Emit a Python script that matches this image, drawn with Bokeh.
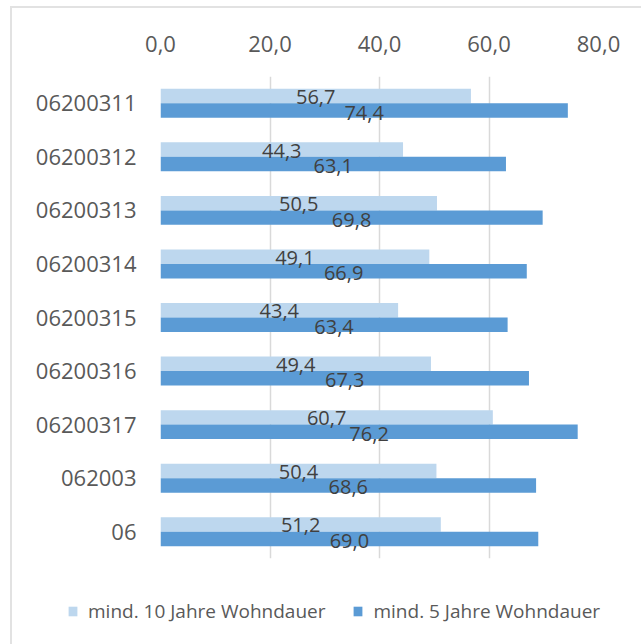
from bokeh.plotting import figure
from bokeh.layouts import column
from bokeh.models import (ColumnDataSource, FactorRange, Range1d, FixedTicker,
                          CustomJSTickFormatter, Legend, LegendItem, LinearAxis)
from bokeh.transform import dodge
from bokeh.core.properties import value
from bokeh.embed import file_html
from bokeh.resources import INLINE

categories = ["06200311", "06200312", "06200313", "06200314", "06200315",
              "06200316", "06200317", "062003", "06"]
series_names = ["mind. 10 Jahre Wohndauer", "mind. 5 Jahre Wohndauer"]
ten_years = [56.7, 44.3, 50.5, 49.1, 43.4, 49.4, 60.7, 50.4, 51.2]
five_years = [74.4, 63.1, 69.8, 66.9, 63.4, 67.3, 76.2, 68.6, 69.0]
x_ticks = [0, 20, 40, 60, 80]

LIGHT = "#bdd7ee"
DARK = "#5b9bd5"
FONT = "Open Sans"

def fmt(v):
    return f"{v:.1f}".replace(".", ",")

src = ColumnDataSource(dict(
    cat=categories,
    ten=ten_years,
    five=five_years,
    ten_mid=[v / 2 for v in ten_years],
    five_mid=[v / 2 for v in five_years],
    ten_lbl=[fmt(v) for v in ten_years],
    five_lbl=[fmt(v) for v in five_years],
))

p = figure(width=629, height=560, output_backend="svg", toolbar_location=None,
           y_range=FactorRange(factors=list(reversed(categories))),
           x_range=Range1d(0, 80), x_axis_location=None,
           min_border_left=148, min_border_top=68, min_border_right=43,
           min_border_bottom=10)
p.outline_line_color = None
p.background_fill_color = "white"
p.border_fill_color = "white"
p.frame_align = False

top_axis = LinearAxis(ticker=FixedTicker(ticks=x_ticks),
                      formatter=CustomJSTickFormatter(code="return tick.toFixed(1).replace('.', ',');"))
p.add_layout(top_axis, "above")
top_axis.axis_line_color = None
top_axis.major_tick_line_color = None
top_axis.minor_tick_line_color = None
top_axis.major_label_text_font = FONT
top_axis.major_label_text_font_size = "22px"
top_axis.major_label_text_color = "#595959"
top_axis.major_label_standoff = 19

ya = p.yaxis[0]
ya.axis_line_color = None
ya.major_tick_line_color = None
ya.minor_tick_line_color = None
ya.major_label_text_font = FONT
ya.major_label_text_font_size = "22px"
ya.major_label_text_color = "#595959"
ya.major_label_standoff = 18

p.xgrid.ticker = FixedTicker(ticks=x_ticks)
p.xgrid.grid_line_color = "#d9d9d9"
p.xgrid.grid_line_width = 1.5
p.ygrid.grid_line_color = None

p.hbar(y=dodge("cat", 0.135, range=p.y_range), right="ten", left=0, height=0.27,
       source=src, fill_color=LIGHT, line_color=None)
p.hbar(y=dodge("cat", -0.135, range=p.y_range), right="five", left=0, height=0.27,
       source=src, fill_color=DARK, line_color=None)

p.text(x="ten_mid", y=dodge("cat", 0.135, range=p.y_range), text="ten_lbl", source=src,
       text_align="center", text_baseline="middle", text_font=value(FONT),
       text_font_size="20px", text_color="#404040", y_offset=1)
p.text(x="five_mid", y=dodge("cat", -0.135, range=p.y_range), text="five_lbl", source=src,
       text_align="center", text_baseline="middle", text_font=value(FONT),
       text_font_size="20px", text_color="#404040", y_offset=2)

# legend strip below the chart (legend proxies sit outside the visible range)
q = figure(width=629, height=76, output_backend="svg", toolbar_location=None,
           x_range=Range1d(0, 1), y_range=Range1d(0, 1),
           x_axis_location=None, y_axis_location=None,
           min_border_left=0, min_border_right=0, min_border_top=0, min_border_bottom=0)
q.frame_align = False
q.outline_line_color = None
q.grid.grid_line_color = None
q.background_fill_color = "white"
q.border_fill_color = "white"
proxy = ColumnDataSource(dict(y=[5], right=[0]))
l1 = q.hbar(y="y", right="right", left=0, height=0.5, source=proxy, fill_color=LIGHT, line_color=None)
l2 = q.hbar(y="y", right="right", left=0, height=0.5, source=proxy, fill_color=DARK, line_color=None)

legend = Legend(items=[LegendItem(label=series_names[0], renderers=[l1]),
                       LegendItem(label=series_names[1], renderers=[l2])],
                orientation="horizontal", location=(55, 20),
                label_text_font=FONT, label_text_font_size="19px",
                label_text_color="#595959", glyph_width=11, glyph_height=12,
                label_standoff=10, spacing=27, border_line_color=None,
                background_fill_alpha=0, padding=0, margin=0)
q.add_layout(legend, "center")

layout = column(p, q, spacing=0)
layout.styles = {"border-left": "2px solid #e2e2e2", "border-top": "2px solid #e2e2e2",
                 "margin-left": "10px", "margin-top": "6px"}

open("out.html", "w").write(file_html(layout, INLINE))
